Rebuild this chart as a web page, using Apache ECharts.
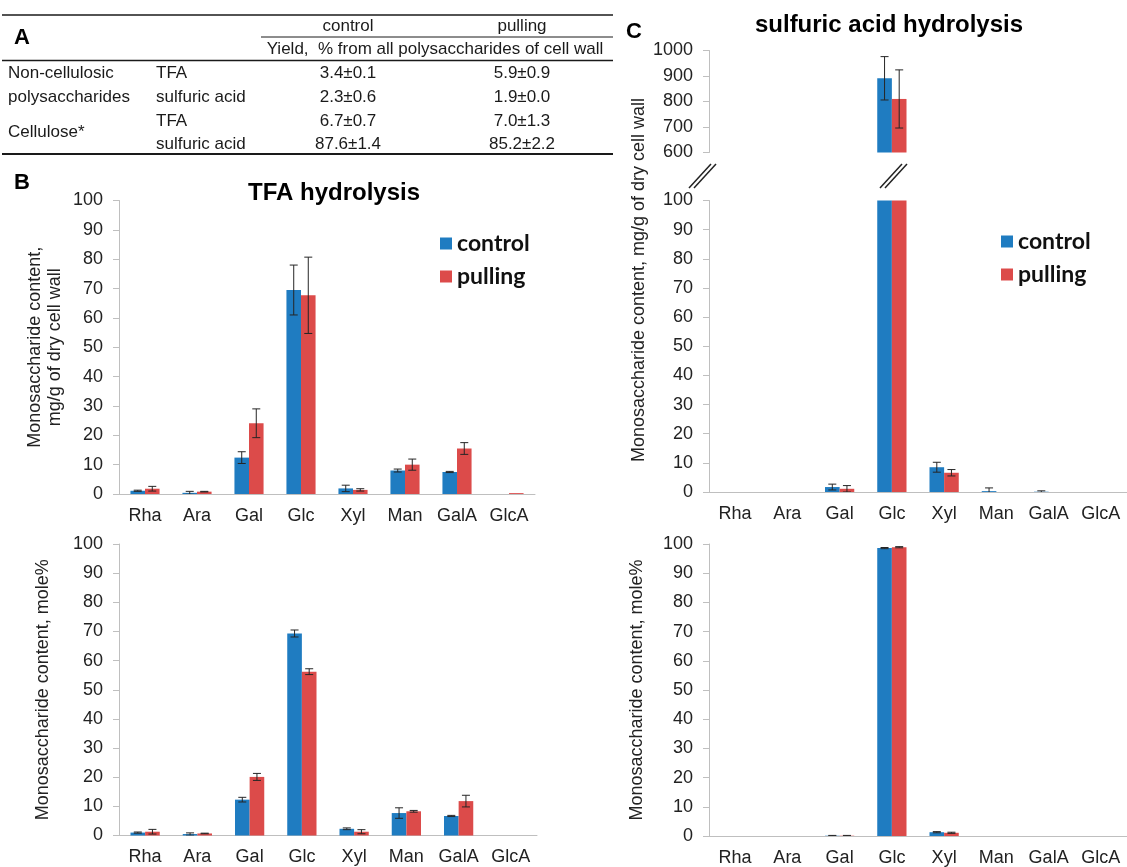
<!DOCTYPE html>
<html>
<head>
<meta charset="utf-8">
<script src="https://cdn.jsdelivr.net/npm/echarts@6/dist/echarts.min.js"></script>
<style>
html, body { margin: 0; padding: 0; background: #fff; }
#main { width: 1127px; height: 867px; }
</style>
</head>
<body>
<div id="main"></div>
<script>
var sugars = ['Rha', 'Ara', 'Gal', 'Glc', 'Xyl', 'Man', 'GalA', 'GlcA'];

// TFA hydrolysis, mg/g of dry cell wall
var tfaMgControl = [1.1, 0.4, 12.4, 69.5, 1.9, 8.0, 7.5, 0];
var tfaMgControlErr = [0.2, 0.5, 2.0, 8.5, 1.1, 0.5, 0.2, 0];
var tfaMgPulling = [1.8, 0.8, 24.1, 67.7, 1.4, 10.0, 15.5, 0.3];
var tfaMgPullingErr = [0.8, 0.1, 4.9, 13.0, 0.4, 1.9, 2.0, 0];
// TFA hydrolysis, mole%
var tfaMolControl = [1.0, 0.5, 12.3, 69.3, 2.3, 7.7, 6.7, 0];
var tfaMolControlErr = [0.2, 0.4, 0.8, 1.2, 0.3, 1.8, 0.2, 0];
var tfaMolPulling = [1.3, 0.7, 20.1, 56.2, 1.3, 8.3, 11.8, 0];
var tfaMolPullingErr = [0.8, 0.1, 1.2, 1.0, 0.7, 0.3, 2.0, 0];
// sulfuric acid hydrolysis, mg/g of dry cell wall
var sulMgControl = [0, 0, 1.7, 891, 8.5, 0.3, 0.1, 0];
var sulMgControlErr = [0, 0, 1.0, 85, 1.7, 1.1, 0.3, 0];
var sulMgPulling = [0, 0, 1.1, 810, 6.6, 0, 0, 0];
var sulMgPullingErr = [0, 0, 1.1, 114, 1.1, 0, 0, 0];
// sulfuric acid hydrolysis, mole%
var sulMolControl = [0, 0, 0.1, 98.6, 1.3, 0, 0, 0];
var sulMolControlErr = [0, 0, 0.1, 0.2, 0.2, 0, 0, 0];
var sulMolPulling = [0, 0, 0.1, 98.9, 1.1, 0, 0, 0];
var sulMolPullingErr = [0, 0, 0.1, 0.2, 0.2, 0, 0, 0];

// table A
var tableHeader = ['control', 'pulling'];
var tableSubHeader = 'Yield,  % from all polysaccharides of cell wall';
var groupLabels = ['Non-cellulosic', 'polysaccharides', 'Cellulose*'];
var methods = ['TFA', 'sulfuric acid', 'TFA', 'sulfuric acid'];
var yieldControl = ['3.4±0.1', '2.3±0.6', '6.7±0.7', '87.6±1.4'];
var yieldPulling = ['5.9±0.9', '1.9±0.0', '7.0±1.3', '85.2±2.2'];

var BLUE = '#1f7cc1';
var RED = '#dc4b4a';
var AXIS = '#bfbfbf';
var TXT = '#222';
var FONT = '"Liberation Sans", Arial, sans-serif';
var GAP = 0.44;

var myChart = echarts.init(document.getElementById('main'));

// error bar drawn at the control (-1) or pulling (+1) bar
function errorBars (side) {
    return function (params, api) {
        var e = api.value(2);
        if (!e) return;
        var i = api.value(0);
        var v = api.value(1);
        var barW = api.size([1, 0])[0] * (1 - GAP) / 2;
        var hi = api.coord([i, v + e]);
        var lo = api.coord([i, v - e]);
        var x = hi[0] + side * barW / 2;
        var style = { stroke: '#262626', lineWidth: 1 };
        return {
            type: 'group',
            children: [
                { type: 'line', shape: { x1: x, y1: hi[1], x2: x, y2: lo[1] }, style: style },
                { type: 'line', shape: { x1: x - 4, y1: hi[1], x2: x + 4, y2: hi[1] }, style: style },
                { type: 'line', shape: { x1: x - 4, y1: lo[1], x2: x + 4, y2: lo[1] }, style: style }
            ]
        };
    };
}

function pairs (vals, errs) {
    return vals.map(function (v, i) { return [i, v, errs[i]]; });
}

var series = [];
function addGroup (g, c, ce, p, pe) {
    series.push({ name: 'control', type: 'bar', xAxisIndex: g, yAxisIndex: g, data: c, itemStyle: { color: BLUE }, barGap: 0, barCategoryGap: '44%', silent: true });
    series.push({ name: 'pulling', type: 'bar', xAxisIndex: g, yAxisIndex: g, data: p, itemStyle: { color: RED }, barGap: 0, barCategoryGap: '44%', silent: true });
    series.push({ type: 'custom', xAxisIndex: g, yAxisIndex: g, data: pairs(c, ce), renderItem: errorBars(-1), clip: true, z: 5, encode: { x: 0, y: 1 }, silent: true });
    series.push({ type: 'custom', xAxisIndex: g, yAxisIndex: g, data: pairs(p, pe), renderItem: errorBars(1), clip: true, z: 5, encode: { x: 0, y: 1 }, silent: true });
}
addGroup(0, tfaMgControl, tfaMgControlErr, tfaMgPulling, tfaMgPullingErr);
addGroup(1, tfaMolControl, tfaMolControlErr, tfaMolPulling, tfaMolPullingErr);
addGroup(2, sulMgControl, sulMgControlErr, sulMgPulling, sulMgPullingErr);
addGroup(3, sulMgControl, sulMgControlErr, sulMgPulling, sulMgPullingErr);
addGroup(4, sulMolControl, sulMolControlErr, sulMolPulling, sulMolPullingErr);

var grids = [
    { left: 119, top: 200.5, width: 416, height: 293.5 },
    { left: 119, top: 544, width: 418, height: 291.5 },
    { left: 709, top: 50.5, width: 418, height: 102 },
    { left: 709, top: 200.5, width: 418, height: 291.5 },
    { left: 709, top: 544, width: 418, height: 293 }
];

var xAxes = grids.map(function (g, i) {
    return {
        type: 'category',
        gridIndex: i,
        data: sugars,
        show: i !== 2,
        axisLine: { lineStyle: { color: AXIS, width: 1 } },
        axisTick: { length: 6, lineStyle: { color: AXIS } },
        axisLabel: { interval: 0, fontSize: 18, color: TXT, fontFamily: FONT, margin: 13 }
    };
});

var yNames = ['Monosaccharide content,\nmg/g of dry cell wall', 'Monosaccharide content, mole%', '', '', 'Monosaccharide content, mole%'];
var yGaps = [54, 66, 0, 0, 62];
var yAxes = grids.map(function (g, i) {
    return {
        type: 'value',
        gridIndex: i,
        min: i === 2 ? 600 : 0,
        max: i === 2 ? 1000 : 100,
        interval: i === 2 ? 100 : 10,
        name: yNames[i],
        nameLocation: 'middle',
        nameGap: yGaps[i],
        nameRotate: 90,
        nameTextStyle: { fontSize: 18, color: TXT, fontFamily: FONT, lineHeight: 20 },
        axisLine: { show: true, lineStyle: { color: AXIS, width: 1 } },
        axisTick: { show: true, length: 6, lineStyle: { color: AXIS } },
        splitLine: { show: false },
        axisLabel: { fontSize: 18, color: TXT, fontFamily: FONT, margin: 16, formatter: function (v) { return String(v); } }
    };
});

var legendBase = {
    data: ['control', 'pulling'],
    orient: 'vertical',
    icon: 'rect',
    itemWidth: 12,
    itemHeight: 12,
    itemGap: 10,
    padding: 0,
    selectedMode: false,
    textStyle: { fontFamily: 'Lato, sans-serif', fontWeight: 'bold', fontSize: 23, color: '#111' }
};

var graphic = [];
function txt (x, y, s, opt) {
    opt = opt || {};
    graphic.push({
        type: 'text', x: x, y: y, rotation: opt.rotation || 0,
        style: {
            text: s, fill: opt.color || '#1a1a1a',
            font: (opt.weight || 'normal') + ' ' + (opt.size || 17) + 'px ' + (opt.family || FONT),
            textAlign: opt.align || 'left', textVerticalAlign: 'middle'
        }
    });
}
function hline (x1, x2, y, w) {
    graphic.push({ type: 'line', shape: { x1: x1, y1: y, x2: x2, y2: y }, style: { stroke: '#1a1a1a', lineWidth: w } });
}

// table A
hline(2, 613, 15, 1.5);
hline(261, 613, 37, 1);
hline(2, 613, 60.5, 1.5);
hline(2, 613, 154, 2);
txt(14, 38, 'A', { weight: 'bold', size: 22, color: '#000' });
txt(348, 26, tableHeader[0], { align: 'center' });
txt(522, 26, tableHeader[1], { align: 'center' });
txt(435, 49, tableSubHeader, { align: 'center' });
var rowY = [73, 97, 121, 144];
var groupY = [73, 97, 132];
groupLabels.forEach(function (s, i) { txt(8, groupY[i], s); });
methods.forEach(function (s, i) {
    txt(156, rowY[i], s);
    txt(348, rowY[i], yieldControl[i], { align: 'center' });
    txt(522, rowY[i], yieldPulling[i], { align: 'center' });
});

// panel letters and titles
txt(14, 183, 'B', { weight: 'bold', size: 22, color: '#000' });
txt(626, 32, 'C', { weight: 'bold', size: 22, color: '#000' });
txt(334, 193, 'TFA hydrolysis', { weight: 'bold', size: 24, color: '#000', align: 'center' });
txt(889, 25, 'sulfuric acid hydrolysis', { weight: 'bold', size: 24, color: '#000', align: 'center' });

// y-axis name shared by the broken axis of C
txt(639, 280, 'Monosaccharide content, mg/g of dry cell wall', { size: 18, color: TXT, align: 'center', rotation: Math.PI / 2 });

// axis break marks
[[689, 164], [880, 164]].forEach(function (p) {
    [0, 5].forEach(function (d) {
        graphic.push({ type: 'line', shape: { x1: p[0] + d, y1: p[1] + 24, x2: p[0] + d + 22, y2: p[1] }, style: { stroke: '#222', lineWidth: 1.5 } });
    });
});

myChart.setOption({
    backgroundColor: '#fff',
    animation: false,
    grid: grids,
    xAxis: xAxes,
    yAxis: yAxes,
    legend: [
        Object.assign({}, legendBase, { left: 440, top: 232 }),
        Object.assign({}, legendBase, { left: 1001, top: 230 })
    ],
    graphic: graphic,
    series: series
});
</script>
</body>
</html>
